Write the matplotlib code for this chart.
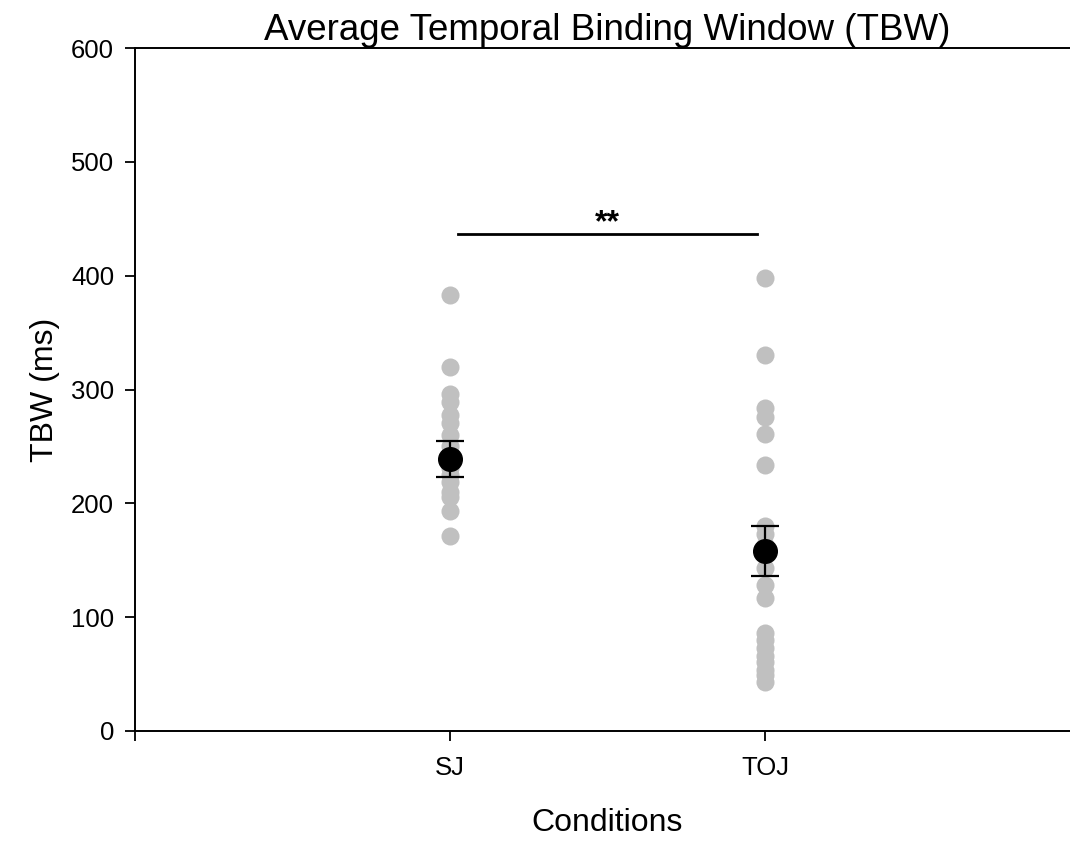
import matplotlib.pyplot as plt

plt.rcParams["font.family"] = ["Liberation Sans", "DejaVu Sans"]

conditions = ["SJ", "TOJ"]
sj_tbw = [383, 320, 296, 289, 278, 271, 260, 250, 244, 238, 231, 225,
          219, 210, 206, 193, 171]
toj_tbw = [398, 330, 284, 276, 261, 234, 180, 173, 163, 143, 128, 117,
           86, 80, 73, 66, 61, 54, 49, 43]
mean_tbw = [239, 158]
sem_tbw = [15.5, 22]
sig_level = 437
sig_label = "**"

fig = plt.figure(figsize=(10.7, 8.41), dpi=100)
ax = fig.add_axes([135 / 1070, 110 / 841, 945 / 1070, 683 / 841])

# individual participants
for i, vals in enumerate([sj_tbw, toj_tbw], start=1):
    ax.plot([i] * len(vals), vals, "o", color="#c0c0c0", markersize=13,
            markeredgewidth=0, zorder=2)

# group means +/- SEM
ax.errorbar([1, 2], mean_tbw, yerr=sem_tbw, fmt="o", color="black",
            markersize=17, elinewidth=1.6, capsize=10, capthick=1.6, zorder=3)

# significance bar
ax.plot([1.025, 1.975], [sig_level, sig_level], color="black", lw=2, zorder=3)
ax.text(1.5, sig_level - 4, sig_label, ha="center", va="bottom",
        fontsize=23, fontweight="bold")

ax.set_xlim(0, 3)
ax.set_ylim(0, 600)
ax.set_xticks([0, 1, 2])
ax.set_xticklabels(["", conditions[0], conditions[1]])
ax.set_yticks(range(0, 601, 100))
ax.tick_params(axis="both", direction="out", length=7, width=1.3,
               labelsize=18.5)
ax.tick_params(axis="x", pad=11)
ax.tick_params(axis="y", pad=8)
for side in ["left", "bottom", "top"]:
    ax.spines[side].set_linewidth(1.4)
ax.spines["right"].set_visible(False)

ax.set_xlabel("Conditions", fontsize=23, labelpad=20)
ax.set_ylabel("TBW (ms)", fontsize=23, labelpad=8)
ax.set_title("Average Temporal Binding Window (TBW)", fontsize=26.5, pad=3)

fig.savefig("out.png", dpi=100)
